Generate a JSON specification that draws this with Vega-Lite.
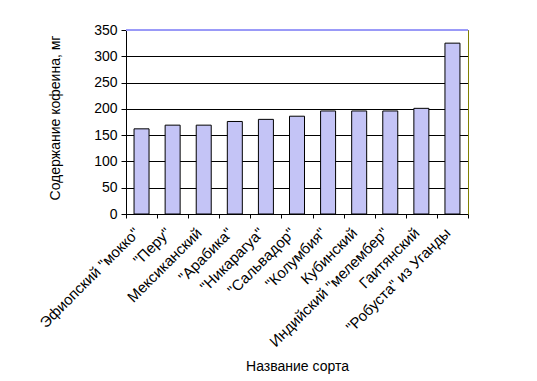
{
  "$schema": "https://vega.github.io/schema/vega-lite/v6.json",
  "autosize": {"type": "none"},
  "width": 342,
  "height": 184,
  "padding": {"left": 126, "top": 30, "right": 69, "bottom": 167},
  "background": "white",
  "config": {
    "view": {"stroke": null},
    "font": "Liberation Sans",
    "axis": {
      "labelFont": "Liberation Sans",
      "titleFont": "Liberation Sans",
      "labelFontSize": 13,
      "titleFontSize": 14,
      "titleFontWeight": "normal",
      "labelColor": "black",
      "titleColor": "black",
      "domainColor": "black",
      "tickColor": "black",
      "gridColor": "black",
      "gridOpacity": 1
    }
  },
  "data": {
    "values": [
      {"sort": "Эфиопский \"мокко\"", "caffeine": 162},
      {"sort": "\"Перу\"", "caffeine": 169},
      {"sort": "Мексиканский", "caffeine": 169},
      {"sort": "\"Арабика\"", "caffeine": 176},
      {"sort": "\"Никарагуа\"", "caffeine": 180},
      {"sort": "\"Сальвадор\"", "caffeine": 186},
      {"sort": "\"Колумбия\"", "caffeine": 196},
      {"sort": "Кубинский", "caffeine": 196},
      {"sort": "Индийский \"мелембер\"", "caffeine": 196},
      {"sort": "Гаитянский", "caffeine": 201},
      {"sort": "\"Робуста\" из Уганды", "caffeine": 325}
    ]
  },
  "layer": [
    {
      "mark": {"type": "bar", "size": 15, "fill": "#c4c4f6", "stroke": "black", "strokeWidth": 1},
      "encoding": {
        "x": {
          "field": "sort",
          "type": "nominal",
          "sort": null,
          "scale": {"paddingInner": 0, "paddingOuter": 0},
          "axis": {
            "title": "Название сорта",
            "labelAngle": -45,
            "labelAlign": "right",
            "labelBaseline": "middle",
            "labelFontSize": 15,
            "labelPadding": 12,
            "labelOffset": -5,
            "tickBand": "extent",
            "tickSize": 4,
            "labelLimit": 300,
            "titleY": 152,
            "titleBaseline": "middle"
          }
        },
        "y": {
          "field": "caffeine",
          "type": "quantitative",
          "scale": {"domain": [0, 350], "nice": false},
          "axis": {
            "title": "Содержание кофеина, мг",
            "values": [0, 50, 100, 150, 200, 250, 300, 350],
            "tickSize": 5,
            "labelPadding": 4,
            "labelFontSize": 14,
            "grid": true,
            "titleX": -71,
            "titleY": 87.5,
            "titleAlign": "center",
            "titleBaseline": "middle"
          }
        }
      }
    },
    {
      "mark": {"type": "rule", "color": "#9a9af8", "strokeWidth": 1},
      "encoding": {
        "y": {
          "datum": 350,
          "type": "quantitative",
          "axis": {
            "orient": "right",
            "title": null,
            "labels": false,
            "ticks": false,
            "grid": false,
            "domainColor": "#808000"
          }
        }
      }
    }
  ],
  "resolve": {"axis": {"y": "independent"}}
}
